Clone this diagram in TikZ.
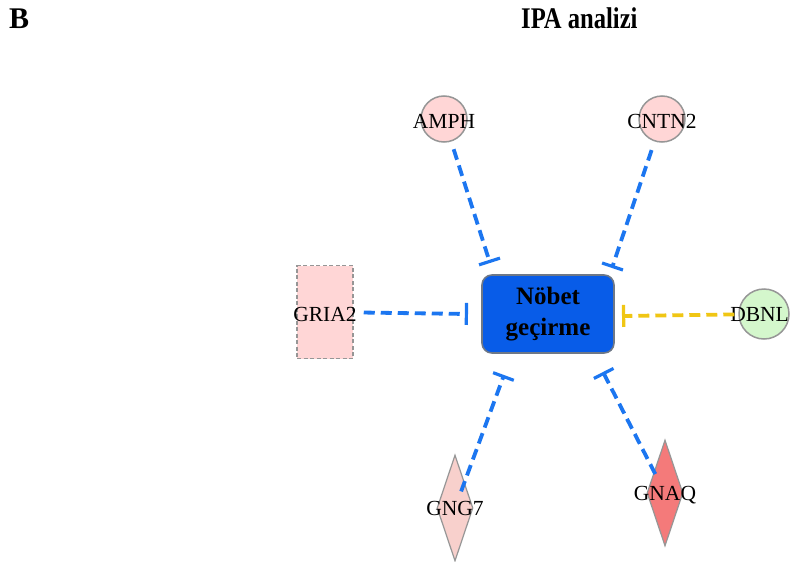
\documentclass[tikz,border=0pt]{standalone}
\usepackage{fontspec}
\setmainfont{Liberation Serif}
\usepackage{graphicx}
\usetikzlibrary{arrows.meta,shapes.geometric}
\definecolor{hubblue}{RGB}{8,92,232}
\definecolor{hubedge}{RGB}{110,120,135}
\definecolor{inhblue}{RGB}{28,118,240}
\definecolor{inhyellow}{RGB}{240,198,20}
\definecolor{lightpink}{RGB}{255,214,214}
\definecolor{rosepink}{RGB}{248,208,204}
\definecolor{salmon}{RGB}{244,122,122}
\definecolor{mint}{RGB}{212,247,204}
\definecolor{shapeedge}{RGB}{150,150,150}
\tikzset{
  x=1pt, y=-1pt,
  genelabel/.style={font=\fontsize{21.5}{21.5}\selectfont, inner sep=0pt},
  genecircle/.style={circle, draw=shapeedge, line width=1.5pt, minimum size=46pt, inner sep=0pt},
  genediamond/.style={diamond, draw=shapeedge, line width=1.2pt, minimum width=36pt, minimum height=106pt, aspect=0.34, inner sep=0pt},
  inhibit/.style={line width=3.8pt, dash pattern=on 11pt off 6pt, -{Bar[width=22pt, line width=3.2pt]}},
}
\begin{document}
\begin{tikzpicture}
\useasboundingbox (0,0) rectangle (790,562);
% headings
\node[anchor=base west, font=\fontsize{30}{30}\selectfont\bfseries, inner sep=0pt] (panel) at (9,28) {B};
\node[anchor=base west, font=\fontsize{30}{30}\selectfont\bfseries, inner sep=0pt] (title) at (521,28) {\scalebox{0.82}[1]{IPA analizi}};
% central process
\node[rounded corners=10pt, draw=hubedge, line width=1.6pt, fill=hubblue, minimum width=132pt, minimum height=78pt,
      align=center, font=\fontsize{25}{31}\selectfont\bfseries] (hub) at (548,314) {Nöbet\\geçirme};
% genes
\node[genecircle, fill=lightpink] (amph) at (444,119) {};
\node[genelabel] (amphT) at (444,121) {AMPH};
\node[genecircle, fill=lightpink] (cntn) at (662,119) {};
\node[genelabel] (cntnT) at (662,121) {CNTN2};
\node[genecircle, fill=mint, minimum size=50pt] (dbnl) at (764,314) {};
\node[genelabel, anchor=east] (dbnlT) at (789,314) {DBNL};
\node[rectangle, draw=shapeedge, dash pattern=on 4pt off 2.5pt, line width=1.5pt, fill=lightpink, minimum width=56pt, minimum height=93pt] (gria) at (325,312) {};
\node[genelabel] (griaT) at (325,314) {GRIA2};
\node[genediamond, fill=rosepink] (gng) at (455,508) {};
\node[genelabel] (gngT) at (455,508) {GNG7};
\node[genediamond, fill=salmon] (gnaq) at (665,493) {};
\node[genelabel] (gnaqT) at (665,495) {GNAQ};
% inhibition end points beside the hub
\coordinate (eA) at (490,263);
\coordinate (eC) at (612,268);
\coordinate (eG) at (468,314);
\coordinate (eD) at (622,316);
\coordinate (eN) at (504,375);
\coordinate (eQ) at (603,372);
% inhibition connectors
\draw[inhibit, draw=inhblue, shorten <=8pt] (amph) -- (eA);
\draw[inhibit, draw=inhblue, shorten <=9pt] (cntn) -- (eC);
\draw[inhibit, draw=inhblue, shorten <=10pt] (gria) -- (eG);
\draw[inhibit, draw=inhyellow, shorten <=4pt] (dbnl) -- (eD);
\draw[inhibit, draw=inhblue, shorten <=-10pt] (gng) -- (eN);
\draw[inhibit, draw=inhblue, shorten <=-3pt] (gnaq) -- (eQ);
\end{tikzpicture}
\end{document}
